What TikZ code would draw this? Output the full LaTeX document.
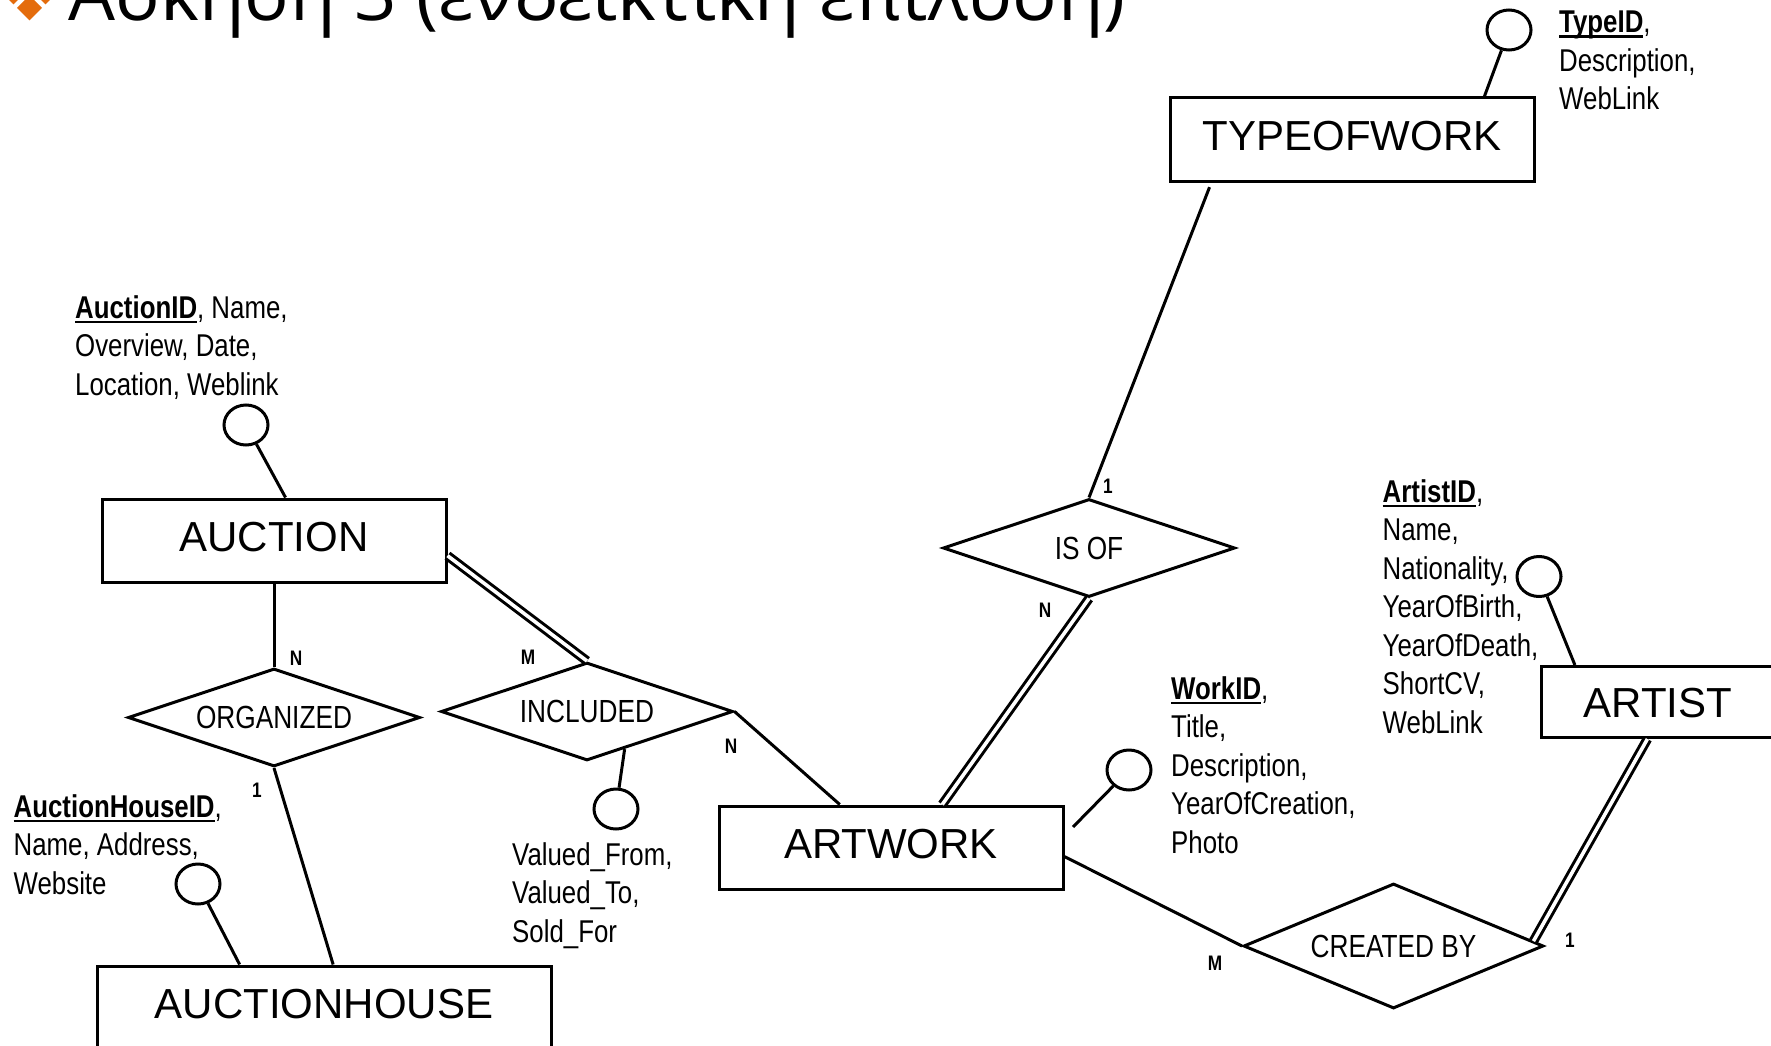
\documentclass[tikz,border=0pt]{standalone}
\usepackage{fontspec}
\setmainfont{Liberation Sans}
\newfontfamily\narrowfont[FakeStretch=0.82]{Liberation Sans}
\newfontfamily\titlefont{Open Sans}
\usetikzlibrary{shapes.geometric}

\definecolor{bulletorange}{RGB}{228,108,12}

\newcommand\keyattr[1]{\setbox0\hbox{\textbf{#1}}\rlap{\rule[-5pt]{\wd0}{2.4pt}}\box0}

\begin{document}
\begin{tikzpicture}[x=1pt, y=-1pt,
	entity/.style={draw, line width=3pt, rectangle, inner sep=0pt, minimum height=83pt, text height=31pt, text depth=10pt, font=\fontsize{42}{50}\selectfont},
	relation/.style={draw, line width=3pt, diamond, aspect=3, inner sep=0pt, minimum width=292pt, minimum height=98pt, font=\narrowfont\fontsize{32}{38}\selectfont},
	attr/.style={draw, line width=3pt, ellipse, inner sep=0pt, minimum width=44pt, minimum height=40pt},
	attrlist/.style={anchor=north west, align=left, inner sep=0pt, font=\narrowfont\fontsize{31.5}{38.5}\selectfont},
	card/.style={inner sep=0pt, font=\narrowfont\bfseries\fontsize{21}{25}\selectfont},
	link/.style={line width=3pt},
	total/.style={line width=3pt, double, double distance=3.6pt}]
	\useasboundingbox (0,0) rectangle (1771,1046);

	% title
	\foreach \dx/\dy in {-16/0, 16/0, 0/-16, 0/16}
		\fill[bulletorange] ({29.5+\dx-12.5}, {-8+\dy}) -- ++(12.5,-12.5) -- ++(12.5,12.5) -- ++(-12.5,12.5) -- cycle;
	\node[anchor=base west, inner sep=0pt, font=\titlefont\fontsize{74.2}{88}\selectfont] (title) at (68,21) {Άσκηση 3 (ενδεικτική επίλυση)};

	% entities
	\node[entity, minimum width=364pt] (typeofwork) at (1352,139.5) {TYPEOFWORK};
	\node[entity, minimum width=344pt] (auction) at (274,540.5) {AUCTION};
	\node[entity, minimum width=344pt] (artwork) at (891,847.5) {ARTWORK};
	\node[entity, minimum width=454pt] (auctionhouse) at (324,1007.5) {AUCTIONHOUSE};
	\node[entity, minimum width=234pt, minimum height=71pt, text depth=0pt] (artist) at (1658,702) {ARTIST};

	% relationships
	\node[relation] (isof) at (1089,548) {IS OF};
	\node[relation] (organized) at (274,717.5) {ORGANIZED};
	\node[relation] (included) at (587,711.5) {INCLUDED};
	\node[relation, minimum width=300pt, minimum height=125pt] (createdby) at (1393.5,946) {CREATED BY};

	% attributes
	\node[attr] (typeattr) at (1509,30) {};
	\node[attr] (auctionattr) at (246,425) {};
	\node[attr] (houseattr) at (198,884) {};
	\node[attr] (includedattr) at (616,809) {};
	\node[attr] (workattr) at (1129,770) {};
	\node[attr] (artistattr) at (1539,576.5) {};

	\node[attrlist] (typelist) at (1559,11) {\keyattr{TypeID},\\Description,\\WebLink};
	\node[attrlist] (auctionlist) at (75,295) {\keyattr{AuctionID}, Name,\\Overview, Date,\\Location, Weblink};
	\node[attrlist] (houselist) at (13.5,794) {\keyattr{AuctionHouseID},\\Name, Address,\\Website};
	\node[attrlist] (includedlist) at (512,842) {Valued\_From,\\Valued\_To,\\Sold\_For};
	\node[attrlist] (worklist) at (1171,676) {\keyattr{WorkID},\\Title,\\Description,\\YearOfCreation,\\Photo};
	\node[attrlist] (artistlist) at (1382.5,479) {\keyattr{ArtistID},\\Name,\\Nationality,\\YearOfBirth,\\YearOfDeath,\\ShortCV,\\WebLink};

	\coordinate (workattrend) at (1073,827);
	\draw[link] (typeattr) -- (typeofwork.18);
	\draw[link] (auctionattr) -- (auction.75);
	\draw[link] (houseattr) -- (auctionhouse.153);
	\draw[link] (included.-45) -- (includedattr);
	\draw[link] (workattr) -- (workattrend);
	\draw[link] (artistattr) -- (artist.156);

	% connectors
	\draw[link] (auction.south) -- (organized.north);
	\draw[link] (organized.south) -- (auctionhouse.78);
	\draw[total] (auction.-5) -- (included.north);
	\draw[link] (included.east) -- (artwork.140);
	\draw[link, shorten <=5pt] (typeofwork.197) -- (isof.north);
	\draw[total] (isof.south) -- (artwork.40);
	\draw[link] (artwork.-3) -- (createdby.west);
	\draw[total] (createdby.2) -- (artist.-106);

	% cardinalities
	\node[card] (n1) at (296,658) {N};
	\node[card] (o1) at (257,790) {1};
	\node[card] (m1) at (528,657) {M};
	\node[card] (n2) at (731,746) {N};
	\node[card] (t1) at (1108,486) {1};
	\node[card] (n3) at (1045,610) {N};
	\node[card] (m2) at (1215,963) {M};
	\node[card] (a1) at (1570,940) {1};

\end{tikzpicture}
\end{document}
